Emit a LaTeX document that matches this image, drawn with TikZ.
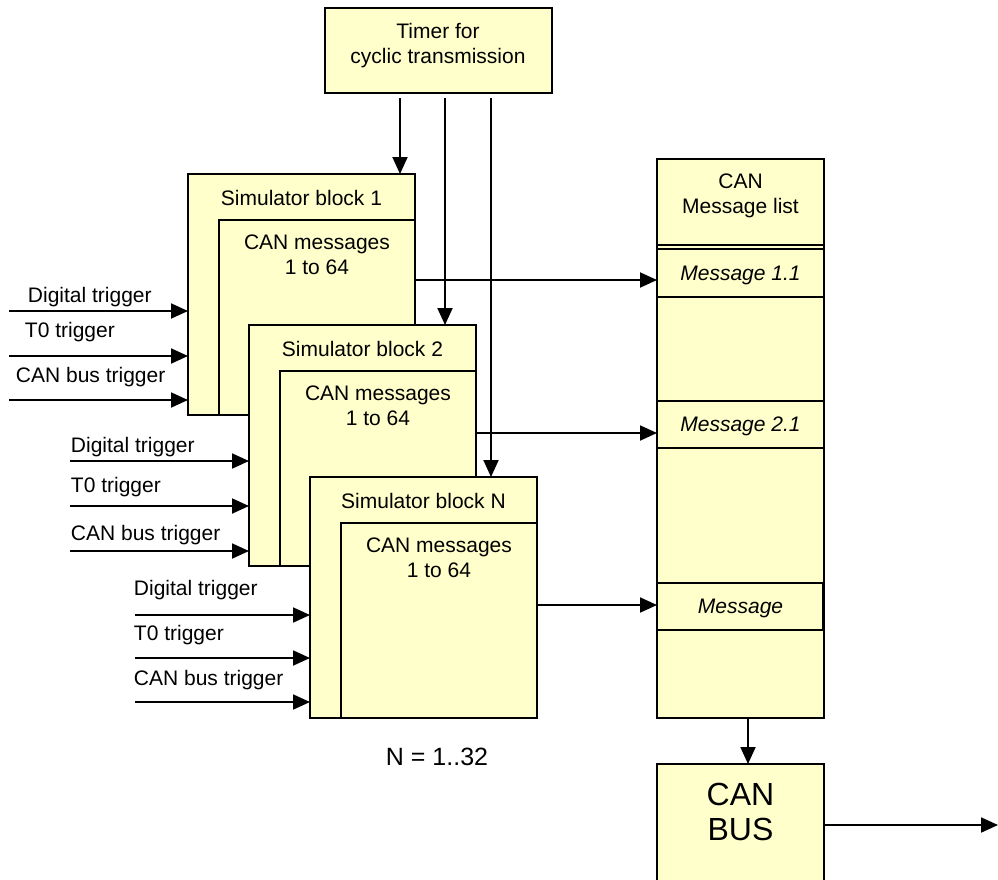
\documentclass[tikz,border=0pt]{standalone}
\usepackage{fontspec}
\setmainfont{Liberation Sans}
\usetikzlibrary{arrows.meta,positioning}
\definecolor{paleyellow}{HTML}{FFFFCC}

\begin{document}
\begin{tikzpicture}[x=1pt,y=-1pt,>={Triangle[length=17pt,width=15pt]},
                    line width=1.9pt,
                    font=\fontsize{21}{24.5}\selectfont]
  \tikzstyle{box}=[draw=black,fill=paleyellow,anchor=north west,
                   inner sep=0pt,outer sep=0pt]
  \tikzstyle{txt}=[inner sep=0pt,align=center,anchor=base]
  \tikzstyle{msg}=[txt,font=\fontsize{21}{24.5}\selectfont\itshape]

  \useasboundingbox (0,0) rectangle (998,879);

  % timer on top
  \node[box,minimum width=227pt,minimum height=85pt] (timer) at (325,8) {};
  \node[txt] (timertext) at (438,63) {Timer for\\cyclic transmission};

  % the three simulator blocks, each with its message box
  \foreach \n/\x/\y/\t in {1/188/174/1, 2/249/325/2, 3/310/477/N} {
    \node[box,minimum width=227pt,minimum height=241pt] (sim\n) at (\x,\y) {};
    \node[box,minimum width=196pt,minimum height=195pt] (can\n) at (\x+31,\y+46) {};
    \node[txt] (simname\n) at (\x+113.5,\y+31) {Simulator block \t};
    \node[txt] (cantext\n) at (\x+129,\y+100) {CAN messages\\1 to 64};
  }

  % timer ticks
  \foreach \n/\x in {1/400, 2/445, 3/491} {
    \coordinate (tick\n) at (\x,98);
    \draw[->] (tick\n) -- (tick\n |- sim\n.north);
  }

  % trigger inputs
  \foreach \n/\x/\y/\lx/\ly/\txt in {
      1/9/311/27/302/Digital trigger, 1/9/356/24/337/T0 trigger,
      1/9/400/15/382/CAN bus trigger,
      2/70/461/70/452/Digital trigger, 2/70/506/70/492/T0 trigger,
      2/70/551/70/540/CAN bus trigger,
      3/135/615/133/595/Digital trigger, 3/135/658/133/640/T0 trigger,
      3/135/702/133/685/CAN bus trigger} {
    \coordinate (in\n\y) at (\x,\y);
    \draw[->] (in\n\y) -- (in\n\y -| sim\n.west);
    \node[txt,anchor=base west] (trig\n\y) at (\lx,\ly) {\txt};
  }

  % message list
  \node[box,minimum width=167pt,minimum height=559pt] (list) at (657,159) {};
  \node[box,minimum width=167pt,minimum height=86pt] (head) at (657,159) {};
  \node[txt] (headtext) at (740.5,213) {CAN\\Message list};
  \node[box,minimum width=167pt,minimum height=48pt] (msgA) at (657,249) {};
  \node[box,minimum width=167pt,minimum height=47pt] (msgB) at (657,401) {};
  \node[box,minimum width=166pt,minimum height=47pt] (msgC) at (657,583) {};
  \node[msg] (msgAtext) at (740.5,280) {Message 1.1};
  \node[msg] (msgBtext) at (740.5,431) {Message 2.1};
  \node[msg] (msgCtext) at (740.5,613) {Message};

  % block outputs into the list
  \foreach \n/\y/\m in {1/280/msgA, 2/433/msgB, 3/605/msgC} {
    \coordinate (out\n) at (sim\n.east |- 0,\y);
    \draw[->] (out\n) -- (out\n -| \m.west);
  }

  % bus
  \node[box,minimum width=167pt,minimum height=140pt] (bus) at (657,764) {};
  \node[txt,font=\fontsize{32}{35}\selectfont] (bustext) at (740.5,840) {CAN\\BUS};
  \draw[->] ([xshift=7.5pt]list.south) -- ([xshift=7.5pt]bus.north);
  \coordinate (busout) at (998,825);
  \draw[->] (bus.east |- busout) -- (busout);

  \node[txt,anchor=base west,font=\fontsize{25}{30}\selectfont] (count) at (385,765) {N = 1..32};
\end{tikzpicture}
\end{document}
